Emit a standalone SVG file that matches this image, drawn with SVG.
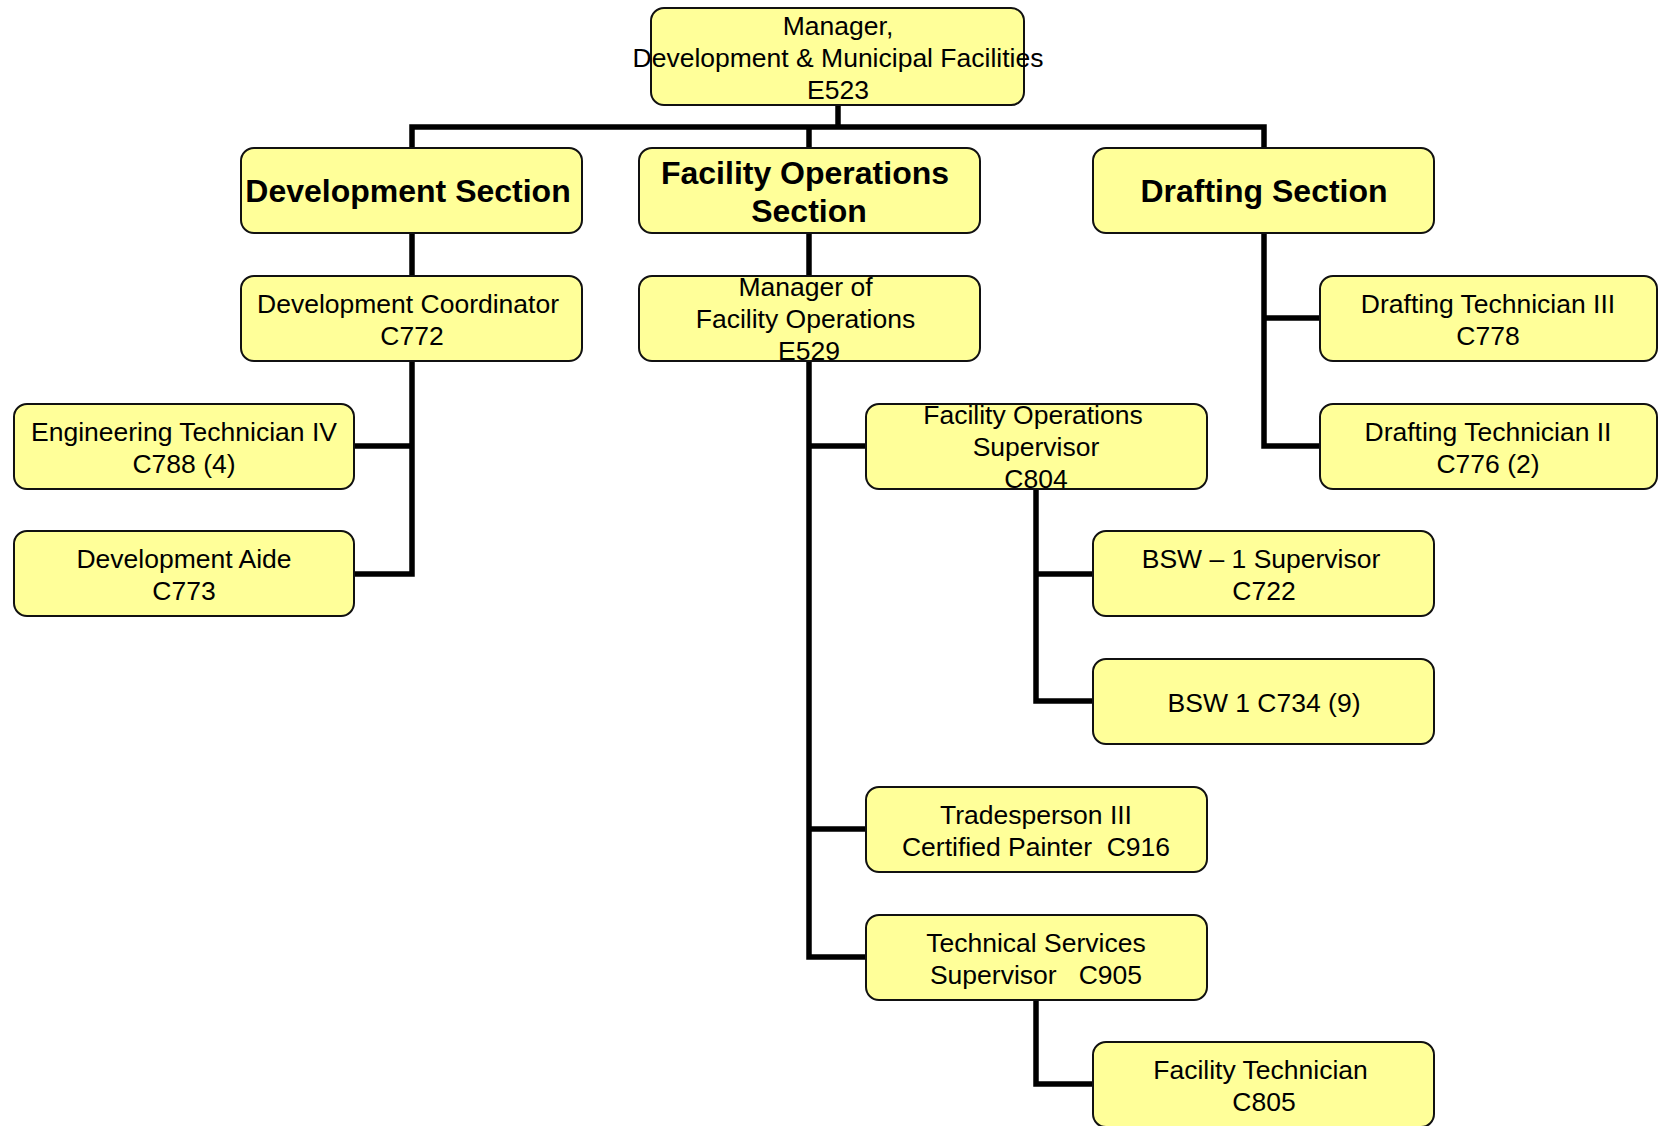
<svg xmlns="http://www.w3.org/2000/svg" width="1659" height="1126" viewBox="0 0 1659 1126">
<style>
.box{fill:#FFFF99;stroke:#111;stroke-width:2}
.t{font-family:"Liberation Sans",Arial,sans-serif;font-size:26.5px;fill:#000;text-anchor:middle;white-space:pre}
.b{font-family:"Liberation Sans",Arial,sans-serif;font-size:32px;font-weight:bold;fill:#000;text-anchor:middle}
.c{fill:none;stroke:#000;stroke-width:5.5;stroke-linejoin:miter;stroke-linecap:butt}
</style>
<rect width="1659" height="1126" fill="#fff"/>
<g id="connectors">
<path class="c" d="M838 105 V127"/>
<path class="c" d="M412 148 V127 H1264 V148"/>
<path class="c" d="M809 127 V148"/>
<path class="c" d="M412 233 V276"/>
<path class="c" d="M412 361 V574 H354 M412 446 H354"/>
<path class="c" d="M809 233 V276"/>
<path class="c" d="M809 361 V957 H866 M809 446 H866 M809 829 H866"/>
<path class="c" d="M1264 233 V446 H1320 M1264 318 H1320"/>
<path class="c" d="M1036 489 V701 H1093 M1036 574 H1093"/>
<path class="c" d="M1036 1000 V1084 H1093"/>
</g>
<g id="n-manager">
<rect class="box" x="651" y="8" width="373" height="97" rx="13"/>
<text class="t" x="838" y="35">Manager,</text>
<text class="t" x="838" y="67">Development &amp; Municipal Facilities</text>
<text class="t" x="838" y="99">E523</text>
</g>
<g id="n-devsection">
<rect class="box" x="241" y="148" width="341" height="85" rx="13"/>
<text class="b" x="408" y="202">Development Section</text>
</g>
<g id="n-facsection">
<rect class="box" x="639" y="148" width="341" height="85" rx="13"/>
<text class="b" x="805" y="184">Facility Operations</text>
<text class="b" x="809" y="222">Section</text>
</g>
<g id="n-draftsection">
<rect class="box" x="1093" y="148" width="341" height="85" rx="13"/>
<text class="b" x="1264" y="202">Drafting Section</text>
</g>
<g id="n-devcoord">
<rect class="box" x="241" y="276" width="341" height="85" rx="13"/>
<text class="t" x="408" y="312.5">Development Coordinator</text>
<text class="t" x="412" y="344.5">C772</text>
</g>
<g id="n-mgrfac">
<rect class="box" x="639" y="276" width="341" height="85" rx="13"/>
<text class="t" x="805.5" y="296">Manager of</text>
<text class="t" x="805.5" y="328">Facility Operations</text>
<text class="t" x="809" y="360">E529</text>
</g>
<g id="n-drafttech3">
<rect class="box" x="1320" y="276" width="337" height="85" rx="13"/>
<text class="t" x="1488" y="312.5">Drafting Technician III</text>
<text class="t" x="1488" y="344.5">C778</text>
</g>
<g id="n-engtech4">
<rect class="box" x="14" y="404" width="340" height="85" rx="13"/>
<text class="t" x="184" y="440.5">Engineering Technician IV</text>
<text class="t" x="184" y="472.5">C788 (4)</text>
</g>
<g id="n-facopssup">
<rect class="box" x="866" y="404" width="341" height="85" rx="13"/>
<text class="t" x="1033" y="424">Facility Operations</text>
<text class="t" x="1036" y="456">Supervisor</text>
<text class="t" x="1036" y="488">C804</text>
</g>
<g id="n-drafttech2">
<rect class="box" x="1320" y="404" width="337" height="85" rx="13"/>
<text class="t" x="1488" y="440.5">Drafting Technician II</text>
<text class="t" x="1488" y="472.5">C776 (2)</text>
</g>
<g id="n-devaide">
<rect class="box" x="14" y="531" width="340" height="85" rx="13"/>
<text class="t" x="184" y="567.5">Development Aide</text>
<text class="t" x="184" y="599.5">C773</text>
</g>
<g id="n-bswsup">
<rect class="box" x="1093" y="531" width="341" height="85" rx="13"/>
<text class="t" x="1261" y="567.5">BSW – 1 Supervisor</text>
<text class="t" x="1264" y="599.5">C722</text>
</g>
<g id="n-bsw1">
<rect class="box" x="1093" y="659" width="341" height="85" rx="13"/>
<text class="t" x="1264" y="711.5">BSW 1 C734 (9)</text>
</g>
<g id="n-trades">
<rect class="box" x="866" y="787" width="341" height="85" rx="13"/>
<text class="t" x="1036" y="823.5">Tradesperson III</text>
<text class="t" x="1036" y="855.5">Certified Painter  C916</text>
</g>
<g id="n-techserv">
<rect class="box" x="866" y="915" width="341" height="85" rx="13"/>
<text class="t" x="1036" y="951.5">Technical Services</text>
<text class="t" x="1036" y="983.5">Supervisor   C905</text>
</g>
<g id="n-factech">
<rect class="box" x="1093" y="1042" width="341" height="85" rx="13"/>
<text class="t" x="1260.5" y="1078.5">Facility Technician</text>
<text class="t" x="1264" y="1110.5">C805</text>
</g>
</svg>
